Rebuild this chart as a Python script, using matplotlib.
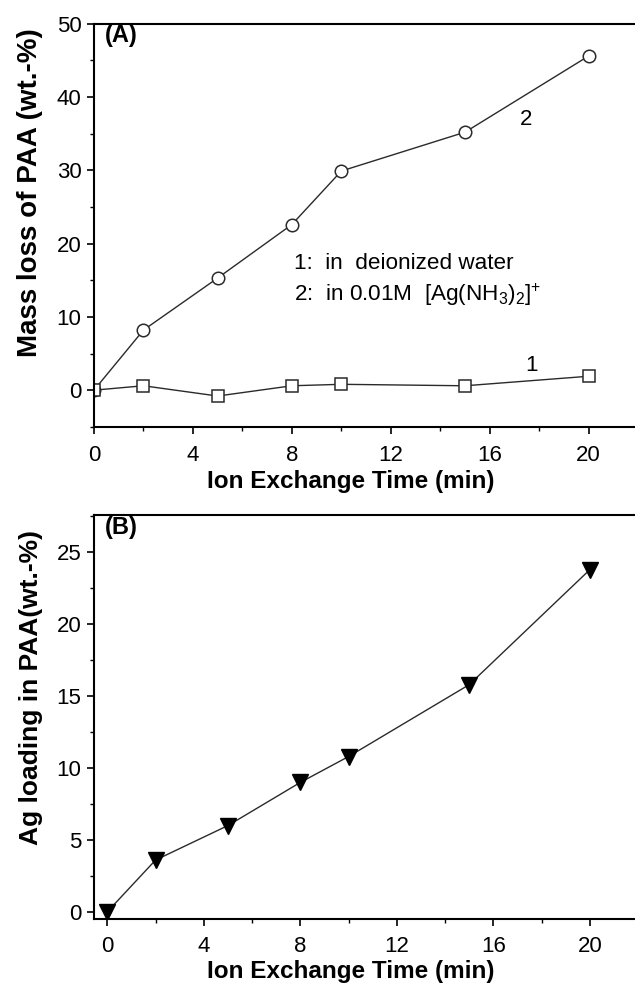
import matplotlib
matplotlib.use("Agg")
import matplotlib.pyplot as plt
from matplotlib.ticker import MultipleLocator

plt.rcParams.update({
    'font.family': ['Liberation Sans', 'DejaVu Sans'],
    'font.size': 16,
    'mathtext.fontset': 'custom',
    'mathtext.rm': 'Liberation Sans',
    'mathtext.it': 'Liberation Sans:italic',
    'mathtext.bf': 'Liberation Sans:bold',
    'axes.linewidth': 1.5,
    'xtick.direction': 'out',
    'ytick.direction': 'out',
    'xtick.major.size': 5,
    'ytick.major.size': 5,
    'xtick.minor.size': 3,
    'ytick.minor.size': 3,
    'xtick.major.width': 1.2,
    'ytick.major.width': 1.2,
    'xtick.minor.width': 1.0,
    'ytick.minor.width': 1.0,
    'xtick.major.pad': 8,
    'ytick.major.pad': 4,
})

# ---------------------------
# DATA
# ---------------------------
time_min = [0, 2, 5, 8, 10, 15, 20]
loss_water = [0.0, 0.6, -0.8, 0.6, 0.8, 0.6, 1.9]
loss_silver = [0.0, 8.2, 15.3, 22.6, 29.9, 35.2, 45.6]
ag_loading = [0.0, 3.6, 6.0, 9.0, 10.8, 15.8, 23.8]

xticks = [0, 4, 8, 12, 16, 20]
line_col = '#2a2a2a'

fig = plt.figure(figsize=(6.35, 9.88), dpi=100)

# ---------------------------
# (A) mass loss
# ---------------------------
ax1 = fig.add_axes([0.148, 0.568, 0.857, 0.408])
ax1.plot(time_min, loss_silver, '-', color=line_col, lw=1.0, marker='o', ms=9,
         mfc='white', mec=line_col, mew=1.1)
ax1.plot(time_min, loss_water, '-', color=line_col, lw=1.0, marker='s', ms=8.4,
         mfc='white', mec=line_col, mew=1.1)
ax1.set_xlim(0, 22)
ax1.set_ylim(-5, 50)
ax1.set_xticks(xticks)
ax1.xaxis.set_minor_locator(MultipleLocator(2))
ax1.yaxis.set_major_locator(MultipleLocator(10))
ax1.yaxis.set_minor_locator(MultipleLocator(5))
ax1.spines['right'].set_visible(False)
ax1.set_xlabel('Ion Exchange Time (min)', fontweight='bold', fontsize=17.5)
ax1.set_ylabel('Mass loss of PAA (wt.-%)', fontweight='bold', fontsize=20)
ax1.xaxis.set_label_coords(0.472, -0.108)
ax1.yaxis.set_label_coords(-0.094, 0.58)
ax1.text(0.02, 1.0, '(A)', transform=ax1.transAxes, fontweight='bold',
         fontsize=17, va='top', ha='left')
ax1.text(17.45, 36.9, '2', fontsize=16, ha='center', va='center')
ax1.text(17.7, 3.4, '1', fontsize=16, ha='center', va='center')
ax1.text(8.1, 17.3, '1:  in  deionized water', fontsize=16.2, ha='left', va='center')
ax1.text(8.1, 13.0, r'2:  in 0.01M  [Ag(NH$_3$)$_2$]$^{+}$', fontsize=16.2,
         ha='left', va='center')

# ---------------------------
# (B) Ag loading
# ---------------------------
ax2 = fig.add_axes([0.148, 0.0698, 0.857, 0.409])
ax2.plot(time_min, ag_loading, '-', color=line_col, lw=1.0, marker='v', ms=11,
         mfc='black', mec='black')
ax2.set_xlim(-0.55, 22)
ax2.set_ylim(-0.5, 27.6)
ax2.set_xticks(xticks)
ax2.xaxis.set_minor_locator(MultipleLocator(2))
ax2.yaxis.set_major_locator(MultipleLocator(5))
ax2.yaxis.set_minor_locator(MultipleLocator(2.5))
ax2.spines['right'].set_visible(False)
ax2.tick_params(axis='x', which='major', pad=7)
ax2.set_xlabel('Ion Exchange Time (min)', fontweight='bold', fontsize=17.5)
ax2.set_ylabel('Ag loading in PAA(wt.-%)', fontweight='bold', fontsize=19)
ax2.xaxis.set_label_coords(0.472, -0.102)
ax2.yaxis.set_label_coords(-0.094, 0.574)
ax2.text(0.02, 0.998, '(B)', transform=ax2.transAxes, fontweight='bold',
         fontsize=17, va='top', ha='left')

fig.savefig('out.png', dpi=100)
